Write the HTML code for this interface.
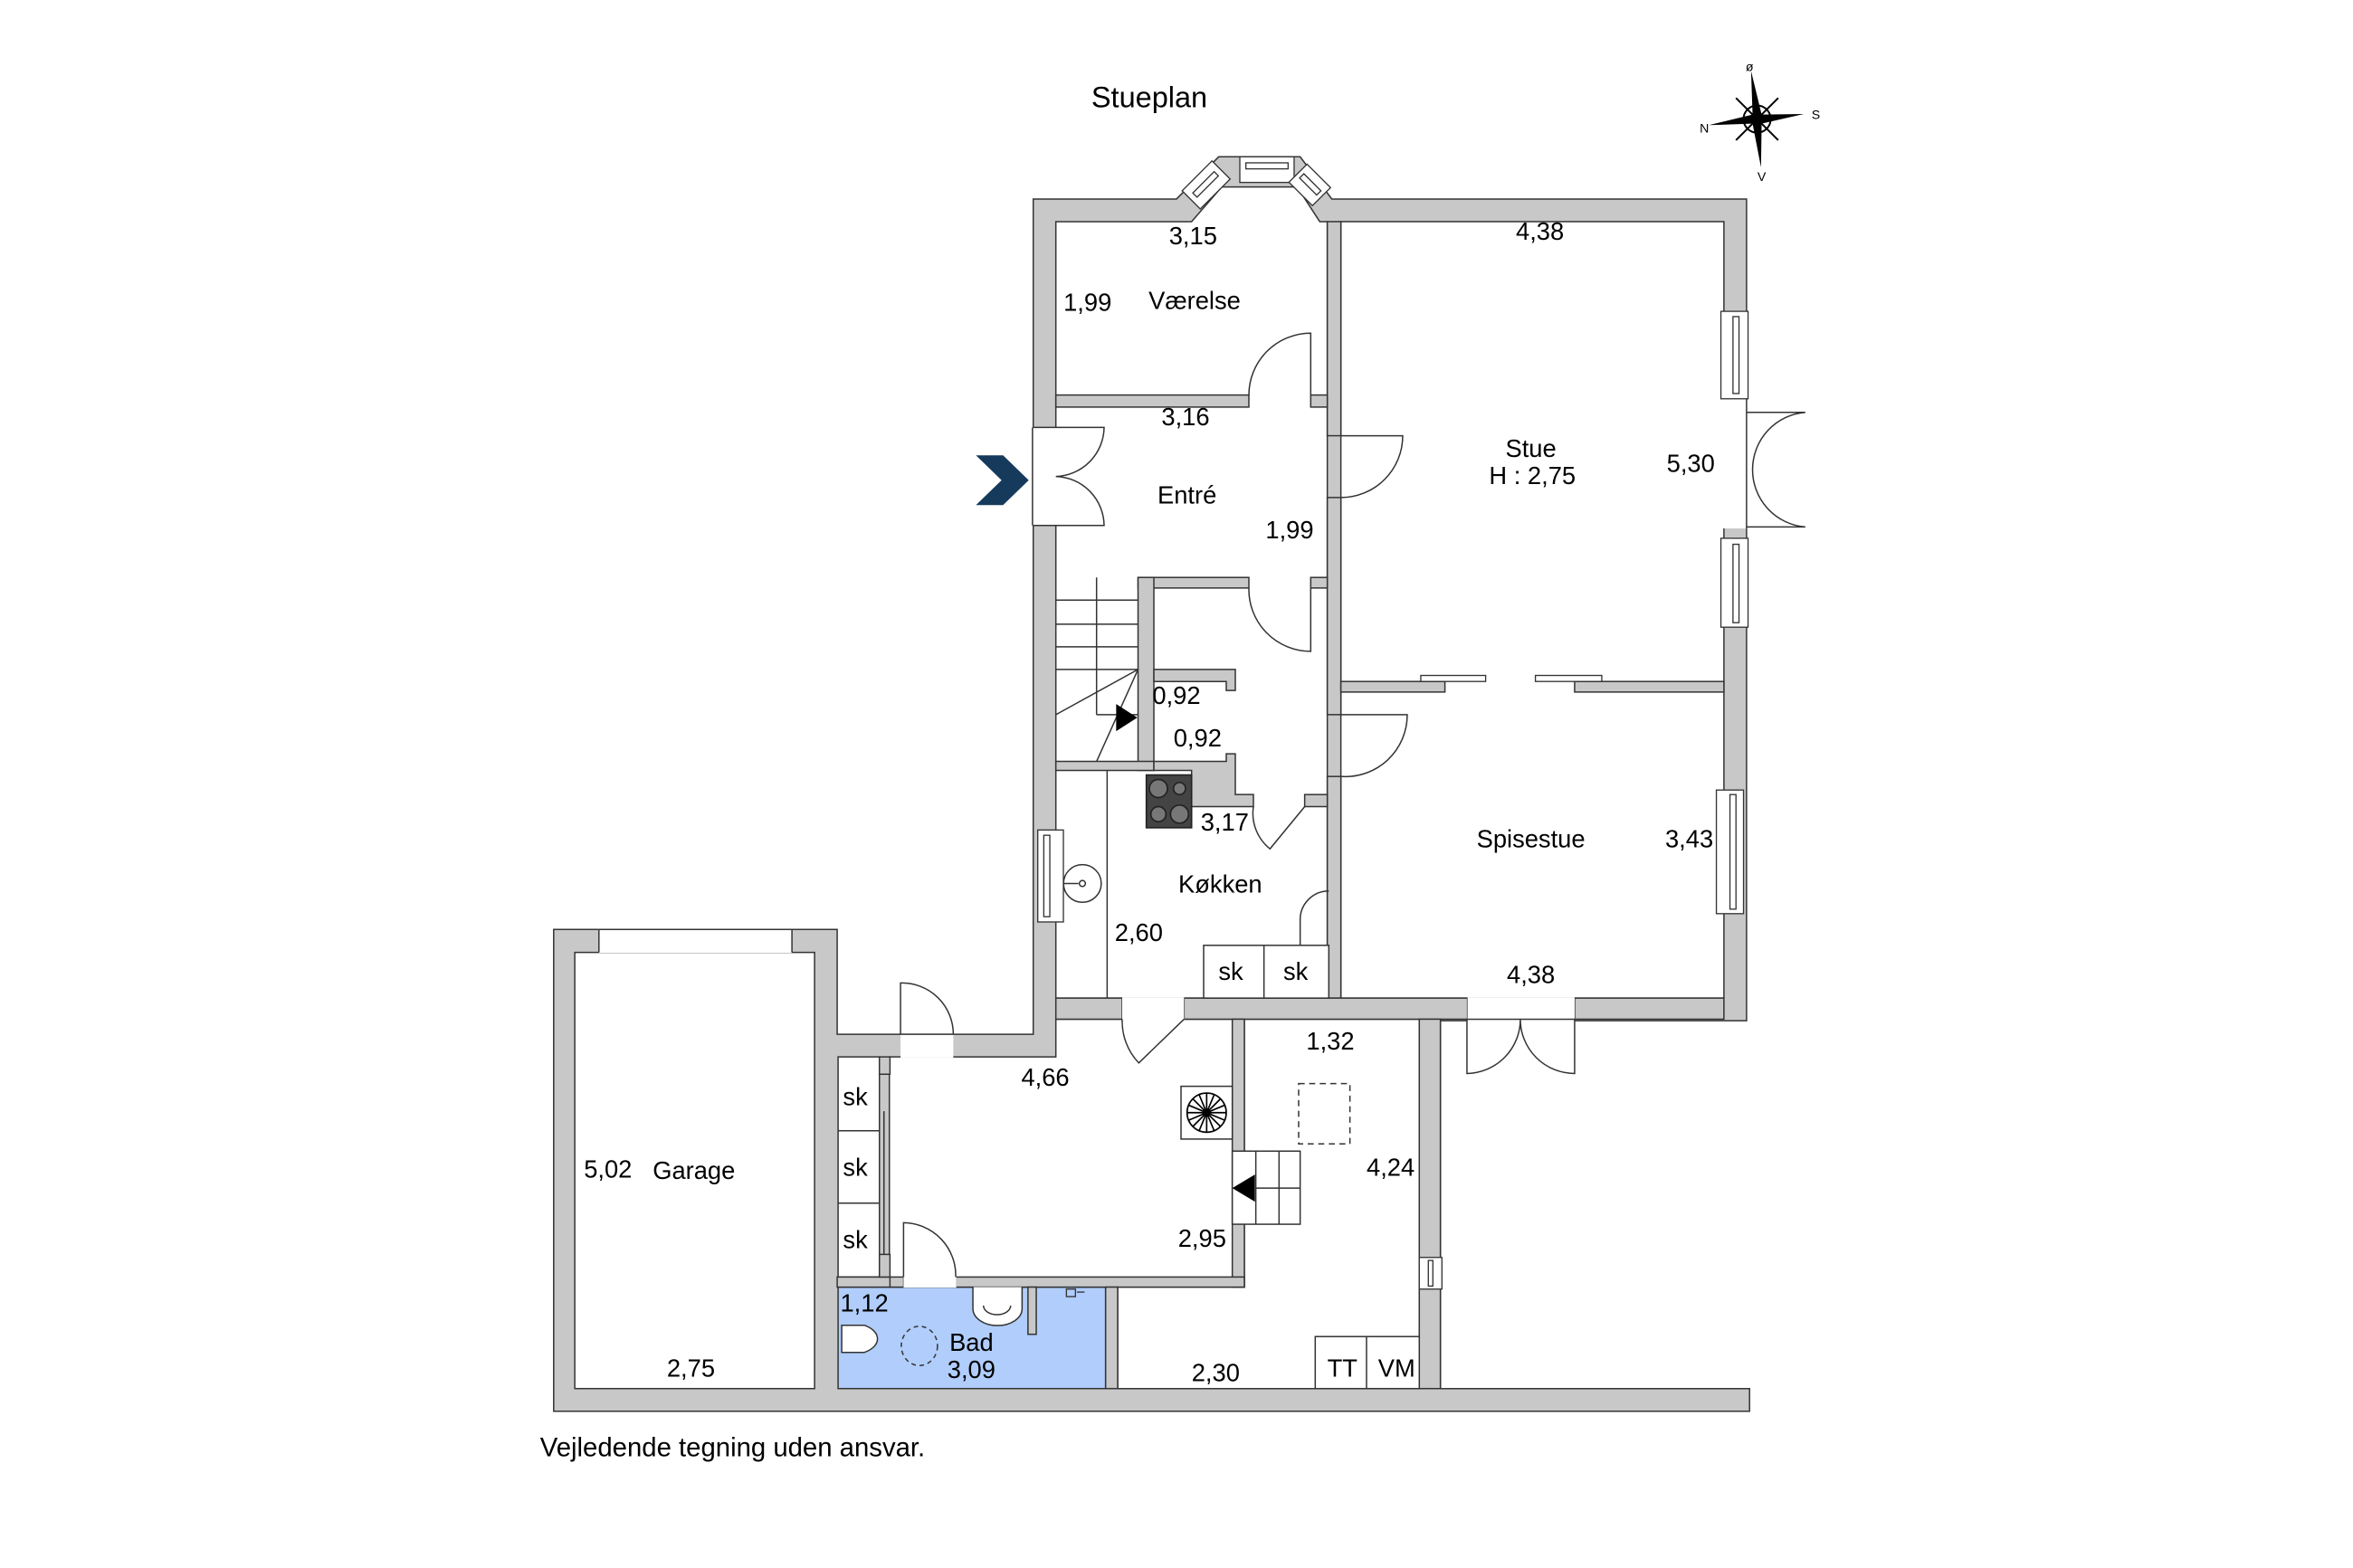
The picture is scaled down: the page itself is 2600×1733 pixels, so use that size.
<!DOCTYPE html>
<html><head><meta charset="utf-8"><style>
html,body{margin:0;padding:0;background:#fff;}
svg{display:block;}
text{font-family:"Liberation Sans",Arial,sans-serif;fill:#000;}
</style></head><body>
<svg width="2600" height="1733" viewBox="0 0 1560 1040" xmlns="http://www.w3.org/2000/svg">
<g font-size="16.4" text-anchor="middle">
<g fill="#c8c8c8" stroke="#333" stroke-width="0.9">
<polygon points="685,132 780,132 808,104 862,104 883,132 1158,132 1158,677 955,677 955,921 1160,921 1160,936 367,936 367,616.5 555,616.5 555,686 685,686"/>
</g>
<g fill="#fff" stroke="#333" stroke-width="0.9">
<polygon points="700,147 790,147 810,124 860,124 875,147 880,147 880,662 700,662"/>
<rect x="889" y="147" width="254" height="515"/>
<rect x="381" y="631.7" width="159" height="289.3"/>
<polygon points="589.6,701 700,701 700,676 825,676 825,853.7 589.6,853.7"/>
<polygon points="825,676 941,676 941,921 741,921 741,853.7 825,853.7"/>
<rect x="555.6" y="853.7" width="177.4" height="67.3" fill="#b0cdfb"/>
<rect x="555.6" y="701" width="27.4" height="146"/>
</g>
<g fill="#c8c8c8" stroke="#333" stroke-width="0.9">
<rect x="880" y="147" width="9" height="142"/>
<rect x="880" y="330" width="9" height="144"/>
<rect x="880" y="515" width="9" height="147"/>
<rect x="700" y="262" width="128" height="8"/>
<rect x="869" y="262" width="11" height="8"/>
<rect x="754.5" y="383" width="73.5" height="7"/>
<rect x="869" y="383" width="11" height="7"/>
<rect x="754.5" y="383" width="10.5" height="128"/>
<rect x="700" y="505" width="65" height="6"/>
<polygon points="765,444 819,444 819,458 813,458 813,452 765,452"/>
<polygon points="765,505 813,505 813,500 819,500 819,527 831,527 831,535 790,535 790,511 765,511"/>
<rect x="865" y="527" width="15" height="8"/>
<rect x="889" y="452" width="69" height="7"/>
<rect x="1044" y="452" width="99" height="7"/>
<rect x="700" y="662" width="44" height="14"/>
<rect x="785" y="662" width="188" height="14"/>
<rect x="1044" y="662" width="99" height="14"/>
<rect x="817" y="676" width="8" height="177.7"/>
<rect x="589.6" y="847" width="9.5" height="6.7"/>
<rect x="633.6" y="847" width="191.4" height="6.7"/>
<rect x="733" y="853.7" width="8" height="67.3"/>
<rect x="681.5" y="853.7" width="5.5" height="31.3"/>
<rect x="941" y="676" width="14" height="245"/>
<rect x="555" y="847" width="35" height="6.7"/>
<rect x="583" y="701" width="7" height="11.5"/>
<rect x="583" y="832" width="7" height="15"/>
</g>
<g fill="#fff" stroke="none">
<rect x="684" y="283.5" width="17" height="65"/>
<rect x="1142" y="264.5" width="17" height="86"/>
<rect x="973" y="661.5" width="71" height="16"/>
<rect x="744" y="661.5" width="41" height="16"/>
<rect x="597" y="685.5" width="35" height="16"/>
<rect x="397" y="616" width="128" height="16"/>
<rect x="599" y="846.5" width="35" height="7.5"/>
</g>
<g stroke="#333" stroke-width="0.9" fill="none">
<line x1="397" y1="616.5" x2="397" y2="631.7"/><line x1="525" y1="616.5" x2="525" y2="631.7"/>
<line x1="397" y1="616.5" x2="525" y2="616.5"/>
<line x1="684.5" y1="283.5" x2="684.5" y2="348.5"/>
<line x1="597" y1="686" x2="632" y2="686"/>
<line x1="973" y1="676" x2="1044" y2="676"/>
<line x1="1158" y1="264.5" x2="1158" y2="350.5"/>
</g>
<g fill="#fff" stroke="#333" stroke-width="0.8">
<rect x="1141" y="206.5" width="18" height="58"/><rect x="1149" y="210" width="4" height="51"/>
<rect x="1141" y="357" width="18" height="59"/><rect x="1149" y="361" width="4" height="52"/>
<rect x="1138" y="524" width="18" height="82"/><rect x="1147" y="527" width="4" height="76"/>
<rect x="688" y="550.5" width="17" height="61"/><rect x="692" y="554" width="4" height="54"/>
<rect x="941" y="834" width="15" height="21"/><rect x="947" y="836" width="3" height="17"/>
<rect x="822" y="104" width="36" height="17"/><rect x="826" y="108" width="28" height="4"/>
<g transform="rotate(-45 800 123)"><rect x="786" y="114" width="28" height="17"/><rect x="790" y="120" width="20" height="4"/></g>
<g transform="rotate(45 868 123)"><rect x="857" y="114" width="22" height="17"/><rect x="860" y="120" width="16" height="4"/></g>
<rect x="942" y="448" width="43" height="4"/>
<rect x="1018" y="448" width="44" height="4"/>
</g>
<g stroke="#333" stroke-width="0.9" fill="none">
<path d="M869,262 V221 A41,41 0 0 0 828,262"/>
<path d="M889,289 H930 A41,41 0 0 1 889,330"/>
<path d="M869,390 V432 A41,41 0 0 1 828,390"/>
<path d="M685,283.5 H732 A33,33 0 0 1 700,316 A33,33 0 0 1 732,348.5 H685"/>
<path d="M1158,273.5 H1197 A38,38 0 0 0 1162,311 A38,38 0 0 0 1197,349.5 H1158"/>
<path d="M889,474 H933 A41,41 0 0 1 889,515"/>
<path d="M865,535 L842,563 A30,30 0 0 1 831,535"/>
<path d="M881,591 A19,19 0 0 0 862,610 V627"/>
<path d="M744,676 A40,40 0 0 0 755,705 L785,676"/>
<path d="M972.6,676 V712 A36,36 0 0 0 1008,676 A36,36 0 0 0 1044,712 V676"/>
<path d="M597,686 V652 A34,34 0 0 1 632,686"/>
<path d="M599,847 V811 A35,35 0 0 1 633.6,847"/>
<line x1="727" y1="383" x2="727" y2="474"/>
<line x1="700" y1="398" x2="754.5" y2="398"/>
<line x1="700" y1="414" x2="754.5" y2="414"/>
<line x1="700" y1="429" x2="754.5" y2="429"/>
<line x1="700" y1="444" x2="754.5" y2="444"/>
<line x1="727" y1="474" x2="754.5" y2="474"/>
<line x1="754.5" y1="444" x2="700" y2="474"/>
<line x1="754.5" y1="444" x2="727" y2="505"/>
<line x1="734" y1="511" x2="734" y2="662"/>
<rect x="798" y="627" width="83" height="35" fill="#fff"/>
<line x1="838" y1="627" x2="838" y2="662"/>
<line x1="555.6" y1="750" x2="583" y2="750"/>
<line x1="555.6" y1="798" x2="583" y2="798"/>
<line x1="586" y1="737" x2="586" y2="832"/>
<rect x="817" y="763.5" width="45" height="48.5" fill="#fff"/>
<line x1="832.6" y1="763.5" x2="832.6" y2="812"/>
<line x1="848" y1="763.5" x2="848" y2="812"/>
<line x1="832.6" y1="788" x2="862" y2="788"/>
<rect x="861" y="718.7" width="34" height="40" stroke-dasharray="4,3"/>
<rect x="872" y="886.5" width="69" height="34.5" fill="#fff"/>
<line x1="906" y1="886.5" x2="906" y2="921"/>
<rect x="783" y="720.5" width="34" height="35" fill="#fff"/>
<circle cx="717.6" cy="586" r="12.5"/>
<circle cx="717.6" cy="586" r="2"/>
<line x1="705" y1="586" x2="715" y2="586"/>
<path d="M645,853.7 V868 A16,11 0 0 0 677.6,868 V853.7" fill="#fff"/>
<path d="M652,866 A9,6 0 0 0 670,866"/>
<path d="M558,879 H573 A18,10.5 0 0 1 573,897 H558 Z" fill="#fff"/>
<ellipse cx="609.5" cy="892.7" rx="12" ry="13" stroke-dasharray="3,2.5"/>
</g>
<polygon points="740,467 740,485 754,476" fill="#000"/>
<polygon points="832,779 832,797 817,788" fill="#000"/>
<g stroke="#000" stroke-width="1" fill="none">
<circle cx="800" cy="738" r="13"/>
<path d="M787,738h26M800,725v26M791,729l18,18M809,729l-18,18M788,733l24,10M788,743l24,-10M795,726l10,24M805,726l-10,24"/>
</g>
<rect x="760" y="514" width="30" height="35" fill="#444" stroke="#222"/>
<g fill="#777" stroke="#222" stroke-width="1">
<circle cx="768" cy="523" r="6"/><circle cx="782" cy="523" r="4"/>
<circle cx="768" cy="540" r="5"/><circle cx="782" cy="540" r="6"/>
</g>
<g stroke="#333" fill="none" stroke-width="0.8"><rect x="707" y="855" width="6" height="5"/><line x1="714" y1="857" x2="719" y2="857"/></g>
<polygon points="647,302 665,302 682,318.5 665,335 647,335 664,318.5" fill="#163a5c"/>
<g stroke="#000" stroke-width="1.2" fill="none">
<circle cx="1165" cy="79" r="9"/>
<line x1="1151" y1="65" x2="1179" y2="93"/><line x1="1179" y1="65" x2="1151" y2="93"/>
</g>
<g fill="#000">
<polygon points="1161,47 1162,76 1168,76"/>
<polygon points="1196,75.6 1168,76 1168,82"/>
<polygon points="1133,83 1162,76 1162,82"/>
<polygon points="1167.6,111 1162,82 1168,82"/>
<circle cx="1165" cy="79" r="4.5"/>
</g>
<g font-size="8.5">
<text x="1160" y="47">ø</text><text x="1204" y="79">S</text><text x="1130" y="88">N</text><text x="1168" y="120">V</text>
</g>
<g transform="translate(-3,-4)">
<text x="765" y="75" font-size="19.5">Stueplan</text>
<text x="794" y="166">3,15</text>
<text x="724" y="210">1,99</text>
<text x="795" y="209">Værelse</text>
<text x="789" y="286">3,16</text>
<text x="790" y="338">Entré</text>
<text x="858" y="361">1,99</text>
<text x="1024" y="163">4,38</text>
<text x="1018" y="307">Stue</text>
<text x="1019" y="325">H : 2,75</text>
<text x="1124" y="317">5,30</text>
<text x="783" y="471">0,92</text>
<text x="797" y="499">0,92</text>
<text x="815" y="555">3,17</text>
<text x="812" y="596">Køkken</text>
<text x="758" y="628">2,60</text>
<text x="819" y="654">sk</text>
<text x="862" y="654">sk</text>
<text x="1018" y="566">Spisestue</text>
<text x="1123" y="566">3,43</text>
<text x="1018" y="656">4,38</text>
<text x="885" y="700">1,32</text>
<text x="696" y="724">4,66</text>
<text x="570" y="737">sk</text>
<text x="570" y="784">sk</text>
<text x="570" y="832">sk</text>
<text x="406" y="785">5,02</text>
<text x="463" y="786">Garage</text>
<text x="925" y="784">4,24</text>
<text x="800" y="831">2,95</text>
<text x="576" y="874">1,12</text>
<text x="647" y="900">Bad</text>
<text x="647" y="918">3,09</text>
<text x="461" y="917">2,75</text>
<text x="809" y="920">2,30</text>
<text x="893" y="917">TT</text>
<text x="929" y="917">VM</text>
<text x="361" y="970" text-anchor="start" font-size="17.6">Vejledende tegning uden ansvar.</text>
</g>
</g>
</svg>
</body></html>
